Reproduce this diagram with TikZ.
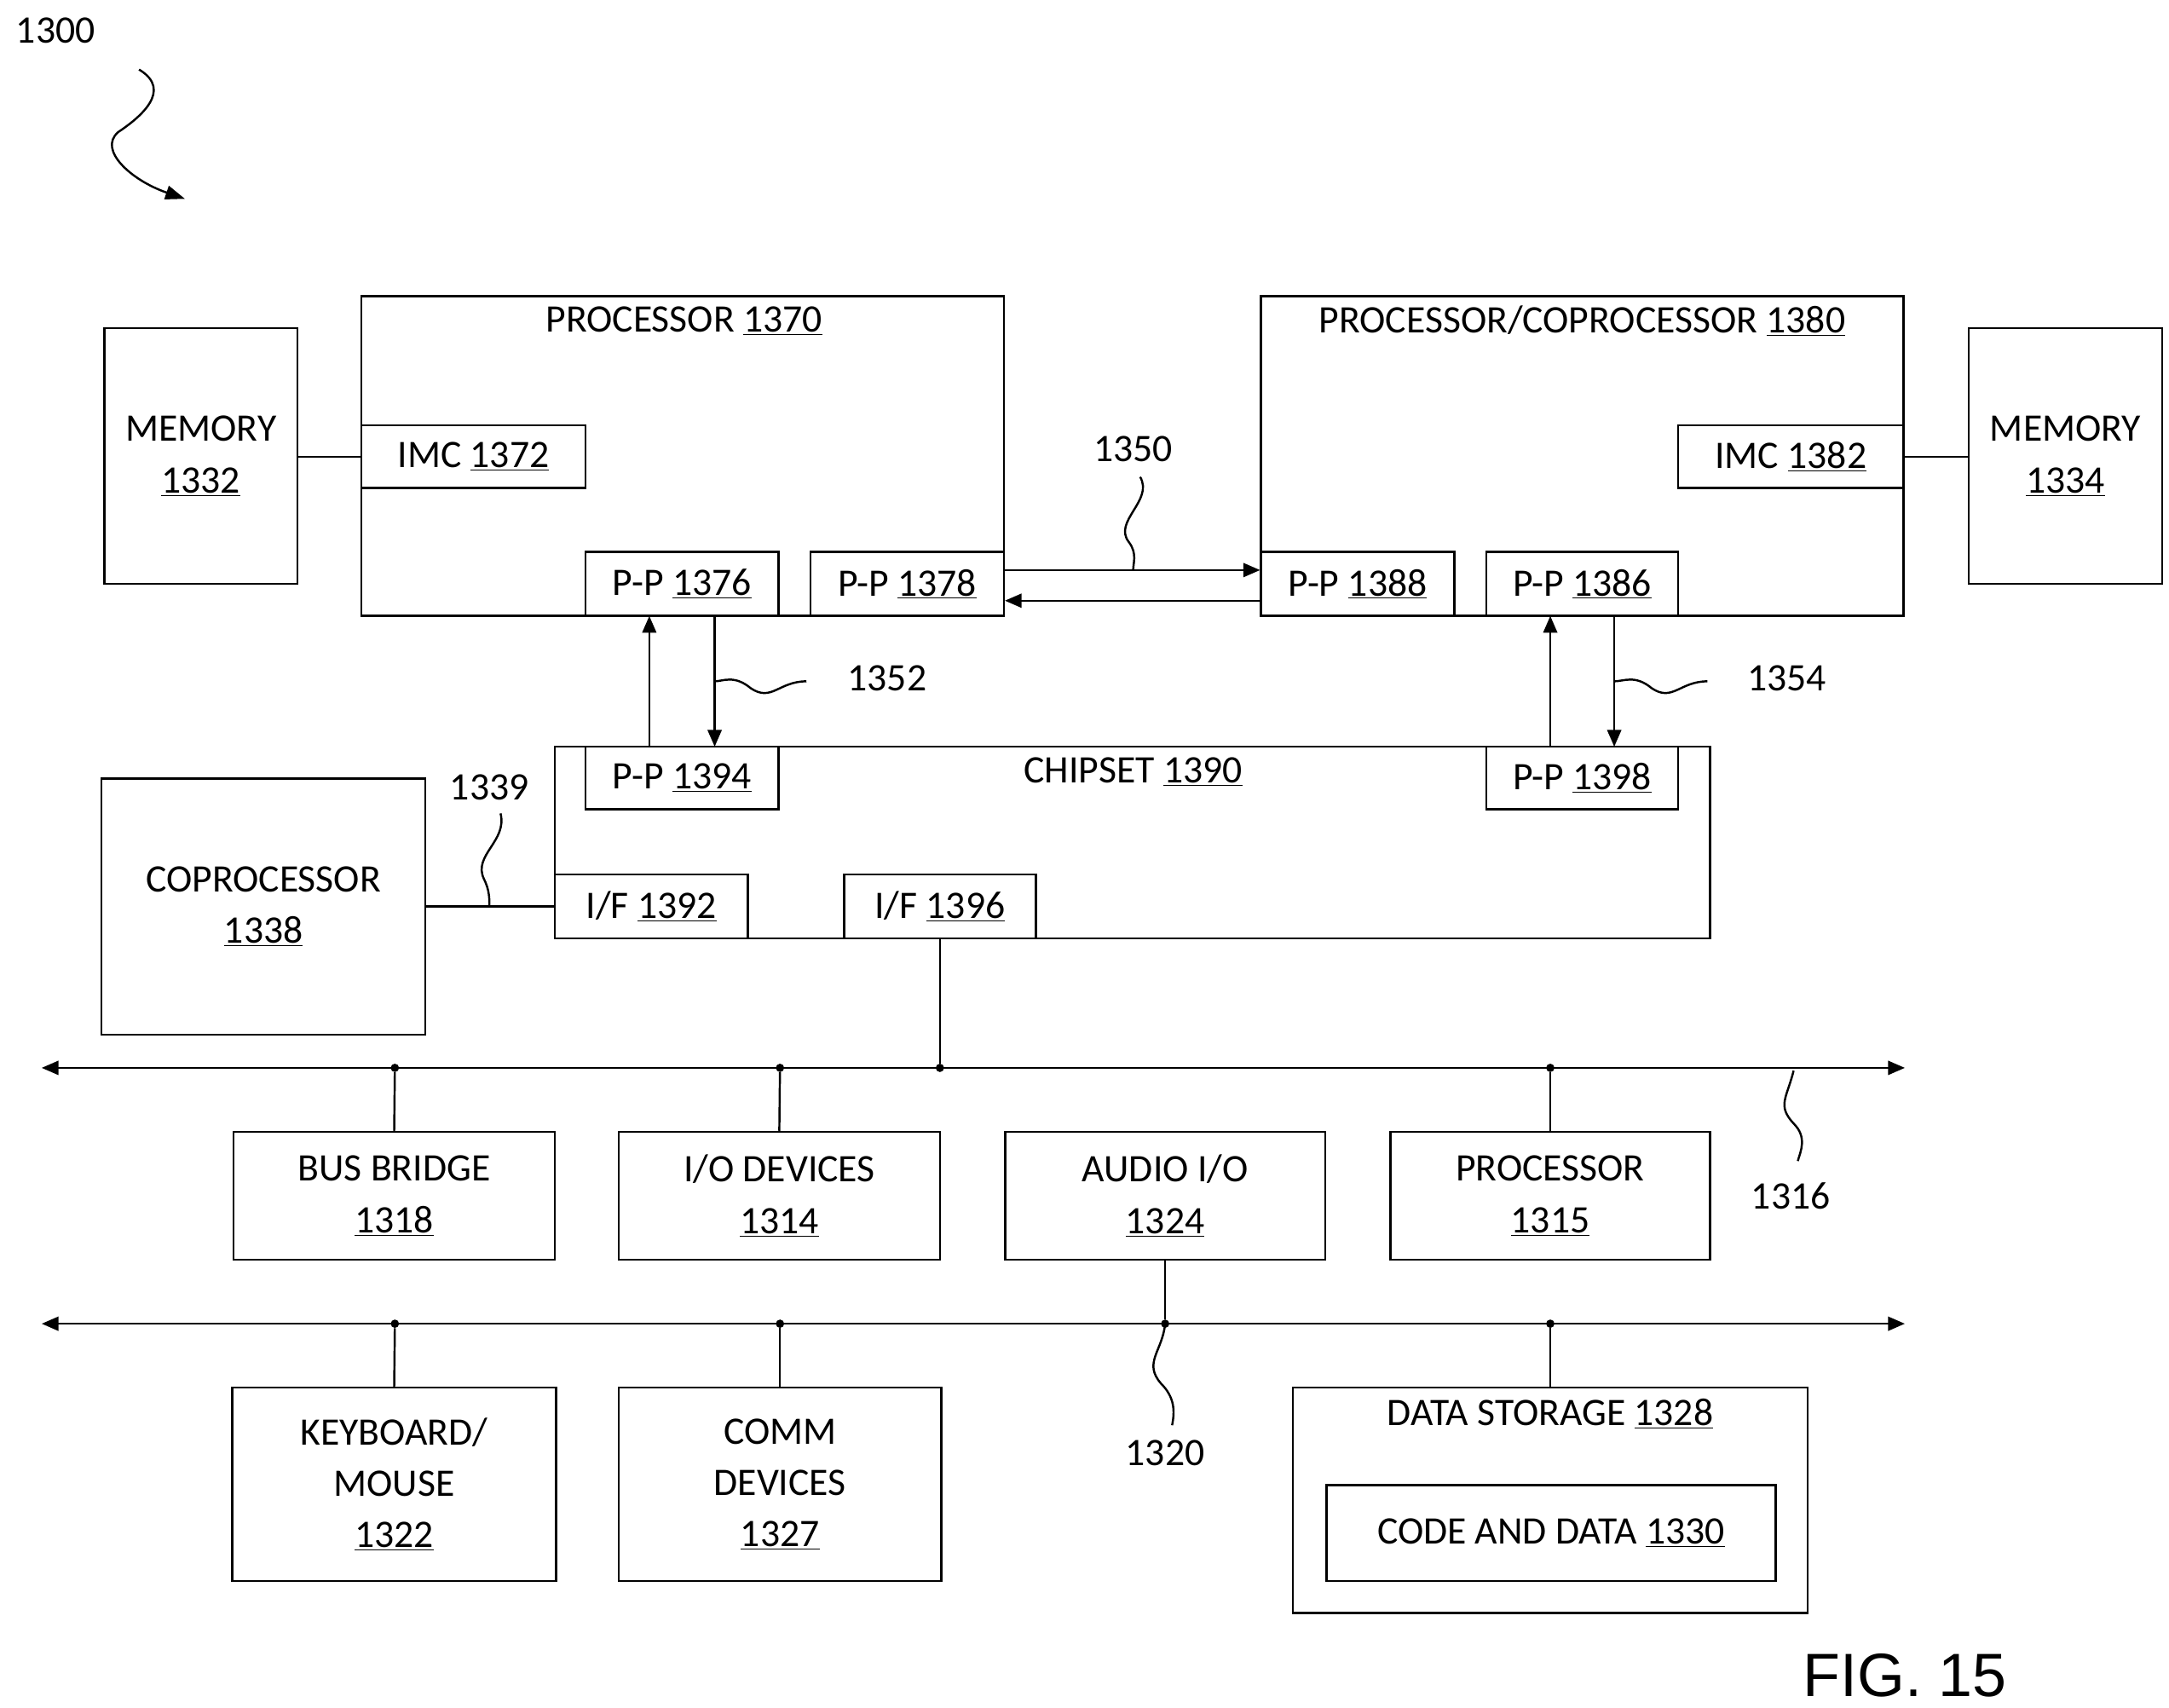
\documentclass[tikz,border=0pt]{standalone}
\usepackage{fontspec}
\setmainfont{Carlito}
\newfontfamily\figfont{Liberation Sans}
\usetikzlibrary{arrows.meta}
\newcommand{\un}[1]{\underline{#1}}
\begin{document}
\begin{tikzpicture}[x=1pt,y=-1pt,
 box/.style={draw,line width=1.5pt,inner sep=0pt,align=center,font=\fontsize{28}{37}\selectfont},
 lab/.style={font=\fontsize{28}{30}\selectfont,inner sep=0pt},
 ln/.style={line width=1.5pt},
 ar/.style={line width=1.5pt,-{Triangle[length=12pt,width=10pt]}},
 dot/.style={circle,fill,inner sep=0pt,minimum size=6pt}]
\useasboundingbox (0,0) rectangle (1560,1228);
\newcommand{\bx}[6]{\node[box,minimum width=#4-#2,minimum height=#5-#3] (#1) at ({(#2+#4)/2},{(#3+#5)/2}) {#6};}
\bx{m1}{75}{236}{214}{420}{MEMORY\\\un{1332}}
\bx{p1}{260}{213}{722}{443}{}
\node[lab] at (492,231) {PROCESSOR \un{1370}};
\bx{imc1}{260}{306}{421}{351}{IMC \un{1372}}
\bx{pp76}{421}{397}{560}{443}{P-P \un{1376}}
\bx{pp78}{583}{397}{722}{443}{P-P \un{1378}}
\bx{p2}{907}{213}{1369}{443}{}
\node[lab] at (1138,231) {PROCESSOR/COPROCESSOR \un{1380}};
\bx{imc2}{1207}{306}{1369}{351}{IMC \un{1382}}
\bx{m2}{1416}{236}{1555}{420}{MEMORY\\\un{1334}}
\bx{pp88}{907}{397}{1046}{443}{P-P \un{1388}}
\bx{pp86}{1069}{397}{1207}{443}{P-P \un{1386}}
\bx{cs}{399}{537}{1230}{675}{}
\node[lab] at (815,555) {CHIPSET \un{1390}};
\bx{pp94}{421}{537}{560}{582}{P-P \un{1394}}
\bx{pp98}{1069}{537}{1207}{582}{P-P \un{1398}}
\bx{if92}{399}{629}{538}{675}{I/F \un{1392}}
\bx{if96}{607}{629}{745}{675}{I/F \un{1396}}
\bx{cop}{73}{560}{306}{744}{COPROCESSOR\\\un{1338}}
\bx{bb}{168}{814}{399}{906}{BUS BRIDGE\\\un{1318}}
\bx{io}{445}{814}{676}{906}{I/O DEVICES\\\un{1314}}
\bx{au}{723}{814}{953}{906}{AUDIO I/O\\\un{1324}}
\bx{pr}{1000}{814}{1230}{906}{PROCESSOR\\\un{1315}}
\bx{kb}{167}{998}{400}{1137}{KEYBOARD/\\MOUSE\\\un{1322}}
\bx{cm}{445}{998}{677}{1137}{COMM\\DEVICES\\\un{1327}}
\bx{ds}{930}{998}{1300}{1160}{}
\node[lab] at (1115,1017) {DATA STORAGE \un{1328}};
\bx{cd}{954}{1068}{1277}{1137}{CODE AND DATA \un{1330}}
% connectors
\draw[ln] (m1.east|-imc1) -- (imc1.west);
\draw[ln] (imc2.east) -- (m2.west|-imc2);
\draw[ar] (pp78.east|-0,410) -- (pp88.west|-0,410);
\draw[ar] (pp88.west|-0,432) -- (pp78.east|-0,432);
\draw[ar] (467,537) -- (467,443);
\draw[ar] (514,443) -- (514,537);
\draw[ar] (1115,537) -- (1115,443);
\draw[ar] (1161,443) -- (1161,537);
\draw[ln] (cop.east|-if92) -- (if92.west);
\coordinate (b1l) at (30,768); \coordinate (b1r) at (1370,768);
\coordinate (b2l) at (30,952); \coordinate (b2r) at (1370,952);
\draw[ln,{Triangle[length=12pt,width=10pt]}-{Triangle[length=12pt,width=10pt]}] (b1l) -- (b1r);
\draw[ln,{Triangle[length=12pt,width=10pt]}-{Triangle[length=12pt,width=10pt]}] (b2l) -- (b2r);
\node[dot] (d1) at (676,768) {}; \draw[ln] (if96.south) -- (d1);
\foreach \x/\n in {284/bb,561/io,1115/pr}{\node[dot] (e\n) at (\x,768) {}; \draw[ln] (e\n) -- (\n.north);}
\node[dot] (d2) at (838,952) {}; \draw[ln] (au.south) -- (d2);
\foreach \x/\n in {284/kb,561/cm,1115/ds}{\node[dot] (f\n) at (\x,952) {}; \draw[ln] (f\n) -- (\n.north);}
% labels and squiggles
\node[lab] at (815,323) {1350};
\draw[ln] (820,343) .. controls (830,360) and (800,375) .. (812,390) .. controls (818,398) and (815,405) .. (815,410);
\node[lab] at (638,488) {1352};
\draw[ln] (580,490) .. controls (560,490) and (555,505) .. (540,495) .. controls (528,485) and (520,490) .. (514,490);
\node[lab] at (1285,488) {1354};
\draw[ln] (1228,490) .. controls (1208,490) and (1203,505) .. (1188,495) .. controls (1176,485) and (1168,490) .. (1161,490);
\node[lab] at (352,566) {1339};
\draw[ln] (360,585) .. controls (365,605) and (340,615) .. (348,632) .. controls (352,640) and (352,646) .. (352,652);
\node[lab] at (1288,860) {1316};
\draw[ln] (1290,770) .. controls (1285,790) and (1278,795) .. (1290,808) .. controls (1300,818) and (1295,828) .. (1293,835);
\node[lab] at (838,1045) {1320};
\draw[ln] (838,952) .. controls (836,972) and (822,980) .. (835,995) .. controls (845,1005) and (845,1015) .. (843,1025);
\node[lab] at (40,22) {1300};
\draw[ln,-{Triangle[length=14pt,width=10pt]}] (100,50) .. controls (125,65) and (100,85) .. (85,95) .. controls (70,108) and (95,130) .. (133,143);
\node[font=\figfont\fontsize{44}{50}\selectfont,inner sep=0pt] at (1370,1205) {FIG. 15};
\end{tikzpicture}
\end{document}
